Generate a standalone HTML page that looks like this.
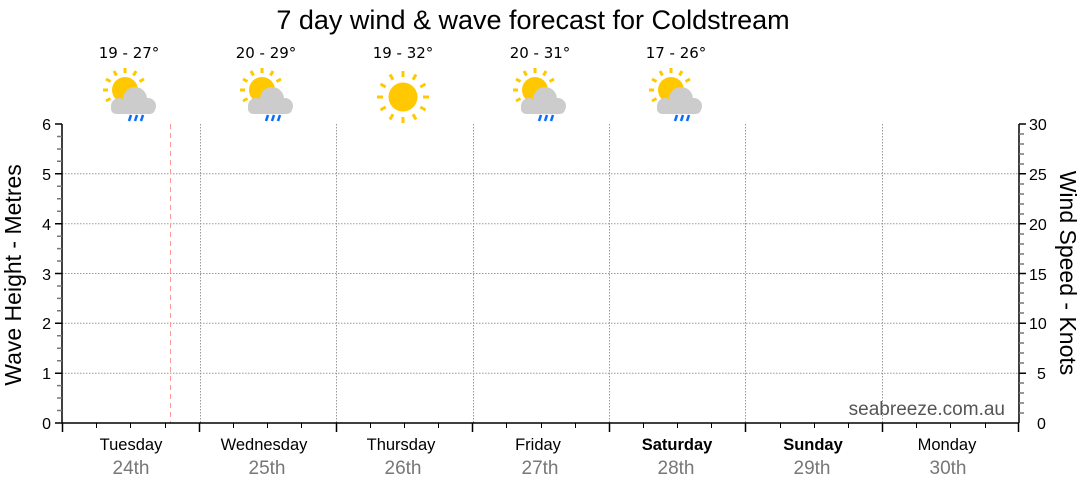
<!DOCTYPE html>
<html><head><style>body{margin:0;background:#fff}svg{display:block;font-family:"Liberation Sans",sans-serif}</style></head><body>
<svg width="1080" height="490" viewBox="0 0 1080 490">
<defs>
<g id="sc">
<g stroke="#ffc800" stroke-width="3">
<line x1="0" y1="-22" x2="0" y2="-17"/>
<line x1="-11" y1="-19" x2="-8.5" y2="-14.5"/>
<line x1="11" y1="-19" x2="8.5" y2="-14.5"/>
<line x1="-19" y1="-11" x2="-14.5" y2="-8.5"/>
<line x1="19" y1="-11" x2="14.5" y2="-8.5"/>
<line x1="-22" y1="0" x2="-17" y2="0"/>
<line x1="-19" y1="11" x2="-14.5" y2="8.5"/>
</g>
<circle cx="0" cy="0" r="13" fill="#ffc800"/>
<g fill="#cccccc"><circle cx="10" cy="9" r="12"/><circle cx="-6" cy="16" r="8"/><circle cx="23" cy="16" r="8"/><rect x="-14" y="13" width="44" height="11" rx="5"/></g>
<g stroke="#0a6cff" stroke-width="2.5"><line x1="4" y1="31" x2="6" y2="25"/><line x1="10" y1="31" x2="12" y2="25"/><line x1="16" y1="31" x2="18" y2="25"/></g>
</g>
<g id="sun">
<g stroke="#ffc800" stroke-width="3">
<line x1="0" y1="-26" x2="0" y2="-20"/><line x1="0" y1="26" x2="0" y2="20"/>
<line x1="-26" y1="0" x2="-20" y2="0"/><line x1="26" y1="0" x2="20" y2="0"/>
<line x1="-13" y1="-22.5" x2="-10" y2="-17.3"/><line x1="13" y1="-22.5" x2="10" y2="-17.3"/>
<line x1="-13" y1="22.5" x2="-10" y2="17.3"/><line x1="13" y1="22.5" x2="10" y2="17.3"/>
<line x1="-22.5" y1="-13" x2="-17.3" y2="-10"/><line x1="22.5" y1="-13" x2="17.3" y2="-10"/>
<line x1="-22.5" y1="13" x2="-17.3" y2="10"/><line x1="22.5" y1="13" x2="17.3" y2="10"/>
</g>
<circle r="14.5" fill="#ffc800"/>
</g>
</defs>
<text x="533" y="29" font-size="27" text-anchor="middle">7 day wind &amp; wave forecast for Coldstream</text>
<g font-size="15" text-anchor="middle" font-family="DejaVu Sans, sans-serif">
<text x="129" y="58">19 - 27°</text><text x="266" y="58">20 - 29°</text><text x="403" y="58">19 - 32°</text><text x="540" y="58">20 - 31°</text><text x="676" y="58">17 - 26°</text>
</g>
<use href="#sc" x="125" y="90"/><use href="#sc" x="262" y="90"/><use href="#sun" x="403" y="97"/><use href="#sc" x="535" y="90"/><use href="#sc" x="671" y="90"/>
<g stroke="#999" stroke-width="1" stroke-dasharray="1.5,1.5">
<line x1="62" x2="1019" y1="373.2" y2="373.2"/><line x1="62" x2="1019" y1="323.3" y2="323.3"/><line x1="62" x2="1019" y1="273.5" y2="273.5"/><line x1="62" x2="1019" y1="223.7" y2="223.7"/><line x1="62" x2="1019" y1="173.8" y2="173.8"/>
<line x1="200.5" x2="200.5" y1="124" y2="423"/><line x1="336.5" x2="336.5" y1="124" y2="423"/><line x1="473.5" x2="473.5" y1="124" y2="423"/><line x1="609.5" x2="609.5" y1="124" y2="423"/><line x1="745.5" x2="745.5" y1="124" y2="423"/><line x1="882.5" x2="882.5" y1="124" y2="423"/>
</g>
<line x1="170.5" x2="170.5" y1="124" y2="423" stroke="#ff9999" stroke-dasharray="5,4"/>
<g stroke="#000" stroke-width="1.5">
<line x1="62" x2="62" y1="124" y2="423"/><line x1="1019" x2="1019" y1="124" y2="423"/><line x1="62" x2="1019" y1="423" y2="423"/>
</g>
<g stroke="#000" stroke-width="1.5">
<path d="M55 124H62M55 173.8H62M55 223.7H62M55 273.5H62M55 323.3H62M55 373.2H62M55 423H62"/>
<path d="M1019 124H1026M1019 173.8H1026M1019 223.7H1026M1019 273.5H1026M1019 323.3H1026M1019 373.2H1026"/>
<path d="M62.5 423V432M199.5 423V432M336.5 423V432M472.5 423V432M609.5 423V432M745.5 423V432M882.5 423V432M1018.5 423V432"/>
</g>
<g stroke="#777" stroke-width="1.5">
<path d="M57 136.5H62M57 149H62M57 161.3H62M57 186.3H62M57 198.8H62M57 211.2H62M57 236.2H62M57 248.6H62M57 261H62M57 286H62M57 298.4H62M57 310.8H62M57 335.8H62M57 348.2H62M57 360.7H62M57 385.6H62M57 398H62M57 410.5H62"/>
<path d="M1019 134H1024M1019 144H1024M1019 154H1024M1019 164H1024M1019 184H1024M1019 194H1024M1019 204H1024M1019 214H1024M1019 234H1024M1019 244H1024M1019 254H1024M1019 264H1024M1019 283H1024M1019 293H1024M1019 303H1024M1019 313H1024M1019 333H1024M1019 343H1024M1019 353H1024M1019 363H1024M1019 383H1024M1019 393H1024M1019 403H1024M1019 413H1024"/>
</g>
<g stroke="#000" stroke-width="1">
<path d="M96.5 423V428M130.5 423V428M165.5 423V428M233.5 423V428M267.5 423V428M301.5 423V428M370.5 423V428M404.5 423V428M438.5 423V428M506.5 423V428M541.5 423V428M575.5 423V428M643.5 423V428M677.5 423V428M711.5 423V428M780.5 423V428M814.5 423V428M848.5 423V428M916.5 423V428M950.5 423V428M985.5 423V428"/>
</g>
<g font-size="16" text-anchor="end">
<text x="51" y="130">6</text><text x="51" y="180">5</text><text x="51" y="230">4</text><text x="51" y="280">3</text><text x="51" y="329">2</text><text x="51" y="379">1</text><text x="51" y="429">0</text>
</g>
<g font-size="16">
<text x="1029" y="130">30</text><text x="1029" y="180">25</text><text x="1029" y="230">20</text><text x="1029" y="280">15</text><text x="1029" y="329">10</text><text x="1037" y="379">5</text><text x="1037" y="429">0</text>
</g>
<text transform="translate(21,275) rotate(-90)" font-size="23" text-anchor="middle">Wave Height - Metres</text>
<text transform="translate(1060,273) rotate(90)" font-size="23" text-anchor="middle">Wind Speed - Knots</text>
<text x="1005" y="415" font-size="19" fill="#555" text-anchor="end">seabreeze.com.au</text>
<g font-size="16.5" text-anchor="middle">
<text x="131" y="450">Tuesday</text><text x="264" y="450">Wednesday</text><text x="401" y="450">Thursday</text><text x="538" y="450">Friday</text><text x="677" y="450" font-weight="bold">Saturday</text><text x="813" y="450" font-weight="bold">Sunday</text><text x="947" y="450">Monday</text>
</g>
<g font-size="19" text-anchor="middle" fill="#777">
<text x="131" y="474">24th</text><text x="267" y="474">25th</text><text x="403" y="474">26th</text><text x="540" y="474">27th</text><text x="676" y="474">28th</text><text x="812" y="474">29th</text><text x="948" y="474">30th</text>
</g>
</svg>
</body></html>
